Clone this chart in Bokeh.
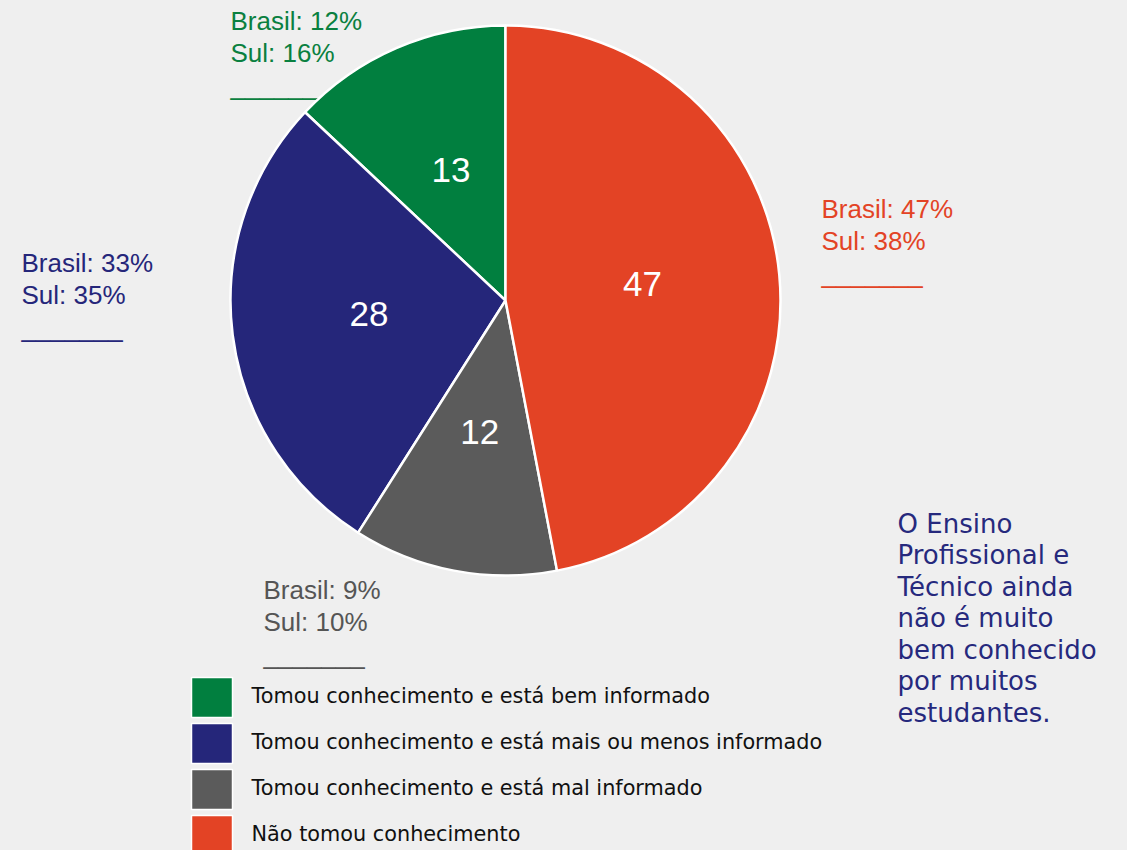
import numpy as np
from bokeh.plotting import figure
from bokeh.models import ColumnDataSource
from bokeh.core.properties import value
from bokeh.embed import file_html
from bokeh.resources import INLINE

# ---------------- data ----------------
categories = [
    "Tomou conhecimento e está bem informado",
    "Tomou conhecimento e está mais ou menos informado",
    "Tomou conhecimento e está mal informado",
    "Não tomou conhecimento",
]
values = [13, 28, 12, 47]
brasil = [12, 33, 9, 47]
sul = [16, 35, 10, 38]
colors = ["#017f3f", "#25267a", "#5b5b5b", "#e34325"]
label_colors = ["#0a8040", "#25267a", "#555555", "#e34325"]
note_lines = ["O Ensino", "Profissional e", "Técnico ainda", "não é muito",
              "bem conhecido", "por muitos", "estudantes."]

# ---------------- layout ----------------
W, H = 1127, 850
BG = "#efefef"
TXT_FIX = 9  # svg baseline correction (px)

def px(X):  # page pixel -> data x
    return X

def py(Y):  # page pixel -> data y
    return H - Y

cx, cy, R = px(505), py(300), 275

p = figure(width=W, height=H, x_range=(0, W), y_range=(0, H),
           output_backend="svg", toolbar_location=None,
           min_border=0, background_fill_color=BG, border_fill_color=BG)
p.axis.visible = False
p.grid.visible = False
p.outline_line_color = None

# outer labels (drawn first so the pie can cover the underline)
label_pos = [(230, 29), (21, 271), (263, 598), (821, 217)]
lx, ly, lt, lc = [], [], [], []
for i in range(len(categories)):
    X, Y = label_pos[i]
    for k, t in enumerate([f"Brasil: {brasil[i]}%", f"Sul: {sul[i]}%", "_______"]):
        lx.append(px(X)); ly.append(py(Y + 32.5 * k - TXT_FIX)); lt.append(t); lc.append(label_colors[i])
p.text(x=lx, y=ly, text=lt, text_color=lc, text_font=value("Liberation Sans"),
       text_font_size="26px", text_baseline="alphabetic", text_align="left")

# pie
frac = np.array(values, dtype=float) / np.sum(values)
ends = np.pi / 2 + 2 * np.pi * np.cumsum(frac)
starts = ends - 2 * np.pi * frac
src = ColumnDataSource(dict(start=starts, end=ends, color=colors, cat=categories))
p.wedge(x=cx, y=cy, radius=R, start_angle="start", end_angle="end",
        fill_color="color", line_color="white", line_width=2.5, source=src)

mid = (starts + ends) / 2
p.text(x=cx + 0.5 * R * np.cos(mid), y=cy + 0.5 * R * np.sin(mid),
       text=[str(v) for v in values], text_color="white",
       text_font=value("Liberation Sans"), text_font_size="35px",
       text_align="center", text_baseline="middle", y_offset=-4)

# legend
rows = np.arange(len(categories))
p.rect(x=[px(211.5)] * len(categories), y=[py(697 + 46 * r) for r in rows],
       width=41, height=40, fill_color=colors, line_color="white", line_width=1.5)
p.text(x=[px(251)] * len(categories), y=[py(703 + 46 * r - 8) for r in rows],
       text=categories, text_color="#111111", text_font=value("DejaVu Sans"),
       text_font_size="20.8px", text_baseline="alphabetic", text_align="left")

# note
p.text(x=[px(897)] * len(note_lines),
       y=[py(532 + 31.5 * i - TXT_FIX) for i in range(len(note_lines))],
       text=note_lines, text_color="#26297d", text_font=value("DejaVu Sans"),
       text_font_size="26px", text_baseline="alphabetic", text_align="left")

html = file_html(p, INLINE)
html = html.replace("<body>", f'<body style="background:{BG};margin:0">')
open("out.html", "w").write(html)
